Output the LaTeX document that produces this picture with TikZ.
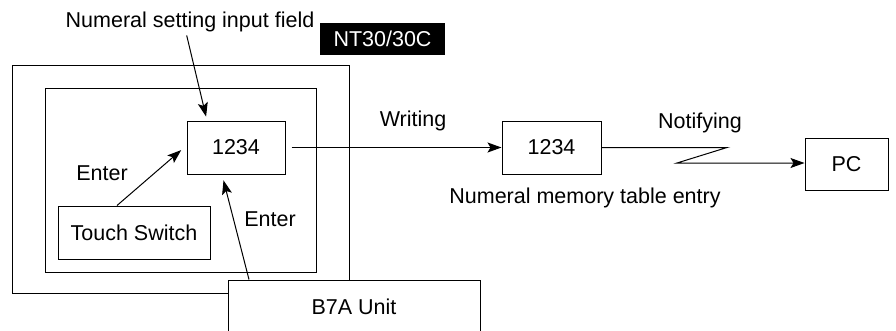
\documentclass[tikz,border=0pt]{standalone}
\usepackage{fontspec}
\setmainfont{Liberation Sans}
\usepackage{tikz}
\usetikzlibrary{arrows.meta, positioning, calc}

\begin{document}
\begin{tikzpicture}[x=1pt, y=1pt, line width=1pt,
    font=\fontsize{21.5}{24}\selectfont,
    box/.style={draw, fill=white, inner sep=0pt},
    lbl/.style={inner sep=0pt, anchor=center},
    arr/.style={-{Stealth[length=14pt, width=10pt, inset=3pt]}}]
  % frame of the picture
  \clip (0,0) rectangle (896,-330);

  % NT30/30C panel
  \node[box, minimum width=337, minimum height=228] (outer) at (180.5,-179) {};
  \node[box, minimum width=271, minimum height=184] (screen) at (180.5,-180) {};
  \node[fill=black, text=white, inner sep=0pt, minimum width=125, minimum height=32] (model) at (382.5,-39) {NT30/30C};

  % Boxes
  \node[box, minimum width=98, minimum height=53] (field) at (236,-147.5) {1234};
  \node[box, minimum width=152, minimum height=53] (switch) at (134,-232.5) {Touch Switch};
  \node[box, minimum width=252, minimum height=53] (unit) at (354,-306.5) {B7A Unit};
  \node[box, minimum width=99, minimum height=53] (memory) at (551.5,-147.5) {1234};
  \node[box, minimum width=83, minimum height=52] (pc) at (846.5,-164) {PC};

  % Labels
  \node[lbl] (fieldlbl) at (190,-22) {Numeral setting input field};
  \node[lbl] (enter1) at (102,-173) {Enter};
  \node[lbl] (enter2) at (270,-219) {Enter};
  \node[lbl] (writing) at (413,-121) {Writing};
  \node[lbl] (memlbl) at (585,-198) {Numeral memory table entry};
  \node[lbl] (notify) at (700,-123) {Notifying};

  % Arrows
  \draw[arr, shorten <=3pt, shorten >=4pt] ([xshift=-4pt]fieldlbl.south) -- ([xshift=-29pt]field.north);
  \draw[arr, shorten >=7pt] ([xshift=-17pt]switch.north) -- ([yshift=2pt]field.west);
  \draw[arr, shorten >=6pt] ([xshift=-105pt]unit.north) -- ([xshift=-14pt]field.south);
  \draw[arr, shorten <=6pt] (field.east) -- (memory.west);

  % Notifying link
  \coordinate (zig1) at (727,-147.5);
  \coordinate (zig2) at (677,-163);
  \draw[arr] (memory.east) -- (zig1) -- (zig2) -- (zig2 -| pc.west);
\end{tikzpicture}
\end{document}
